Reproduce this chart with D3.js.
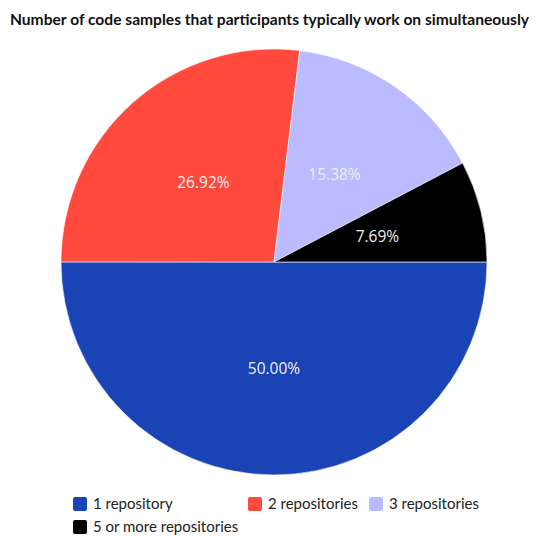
<!DOCTYPE html>
<html><head><meta charset="utf-8">
<script src="https://cdn.jsdelivr.net/npm/d3@7"></script>
<style>body{margin:0;background:#fff;} svg{display:block;}</style>
</head><body>
<svg id="c" width="538" height="537"></svg>
<script>
const categories = ["1 repository", "2 repositories", "3 repositories", "5 or more repositories"];
const values = [50.00, 26.92, 15.38, 7.69];
const colors = ["#1a43b5", "#ff4a3d", "#bbbbff", "#000000"];
const title = "Number of code samples that participants typically work on simultaneously";

const svg = d3.select("#c");
const cx = 274, cy = 262, R = 213;

svg.append("text").attr("x", 269.5).attr("y", 25).attr("text-anchor", "middle")
  .attr("font-family", "Lato").attr("font-weight", "bold").attr("font-size", 15.6)
  .attr("fill", "#111").text(title);

const pie = d3.pie().sort(null).value(d => d)
  .startAngle(Math.PI / 2).endAngle(Math.PI / 2 + 2 * Math.PI);
const arcs = pie(values);
const arc = d3.arc().innerRadius(0).outerRadius(R);
const g = svg.append("g").attr("transform", `translate(${cx},${cy})`);
g.selectAll("path").data(arcs).join("path")
  .attr("d", arc).attr("fill", (d, i) => colors[i])
  .attr("stroke", "#fff").attr("stroke-width", 0.6);
g.selectAll("text").data(arcs).join("text")
  .attr("transform", d => `translate(${arc.centroid(d)})`)
  .attr("text-anchor", "middle").attr("dy", "0.35em")
  .attr("font-family", "Open Sans").attr("font-size", 15.5)
  .attr("fill", "#eeeeee").text(d => d.value.toFixed(2) + "%");

const legendPos = [[73, 504], [248, 504], [369, 504], [73, 527]];
const lg = svg.append("g");
categories.forEach((c, i) => {
  const [x, y] = legendPos[i];
  lg.append("rect").attr("x", x).attr("y", y - 7).attr("width", 14).attr("height", 14)
    .attr("rx", 2).attr("fill", colors[i]);
  lg.append("text").attr("x", x + 20).attr("y", y).attr("dy", "0.35em")
    .attr("font-family", "Lato").attr("font-size", 15).attr("fill", "#222").text(c);
});
</script>
</body></html>
